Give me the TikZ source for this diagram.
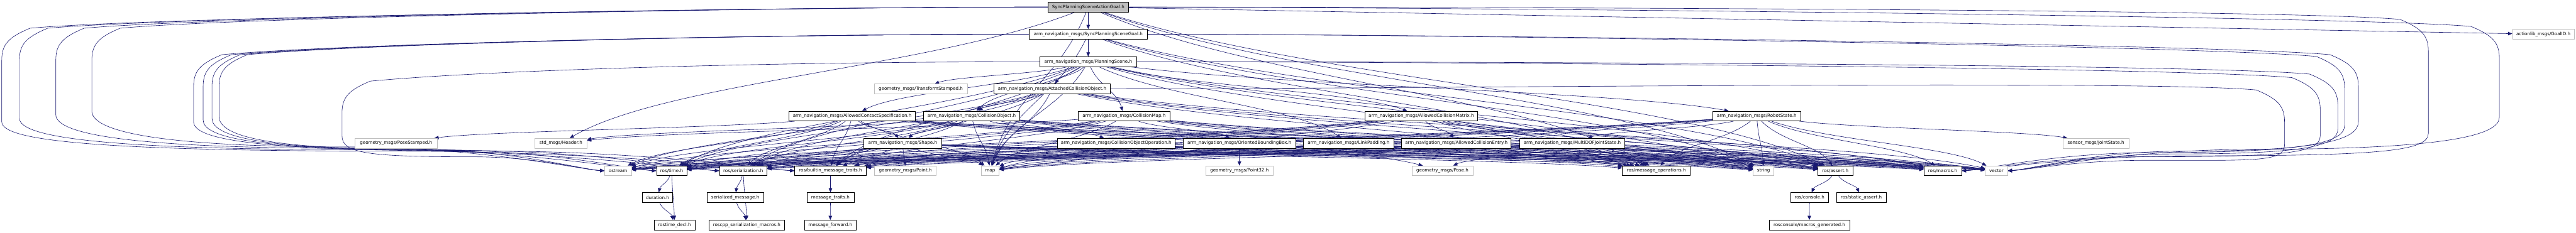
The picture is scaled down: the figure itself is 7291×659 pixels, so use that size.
\documentclass[tikz,border=0pt]{standalone}
\usepackage{fontspec}
\setmainfont{DejaVu Sans}
\usetikzlibrary{calc,arrows.meta}
\pgfdeclarelayer{bg}
\pgfsetlayers{bg,main}
\definecolor{edgec}{HTML}{191970}
\definecolor{extc}{HTML}{BFBFBF}
\definecolor{topc}{HTML}{BFBFBF}
% generic edge
\newcommand\E[2]{\draw[edge] let \p1=(#1), \p2=(#2) in (#1) .. controls ({\x1+0.3*(\x2-\x1)},{\y1+0.45*(\y2-\y1)}) and ({\x2+0.2*(\x1-\x2)},{\y2+0.45*(\y1-\y2)}) .. (#2);}
% left loop: src tgt xloop ycorner ybottom
\newcommand\LL[5]{\draw[edge] let \p1=(#1.west), \p2=(#2.west), \p3=({#3+0.5*(\x2-#3)},{#5-0.6*(#5-\y2)}) in (#1.west) .. controls ({\x1-800},{\y1}) and ({#3+400},{#4}) .. ({#3+80},{#4-30}) .. controls ({#3+20},{#4-55}) and (#3,{#4-75}) .. (#3,{#4-120}) -- (#3,#5) .. controls (#3,{#5-50}) and ({#3+0.2*(\x3-#3)},{\y3}) .. (\p3) .. controls ({\x3+0.5*(\x2-\x3)},{\y3}) and ({\x2-60},{\y2+3}) .. (#2.west);}
% right loop
\newcommand\RL[5]{\draw[edge] let \p1=(#1.east), \p2=(#2.east), \p3=({#3-0.5*(#3-\x2)},{#5-0.6*(#5-\y2)}) in (#1.east) .. controls ({\x1+800},{\y1}) and ({#3-400},{#4}) .. ({#3-80},{#4-30}) .. controls ({#3-20},{#4-55}) and (#3,{#4-75}) .. (#3,{#4-120}) -- (#3,#5) .. controls (#3,{#5-50}) and ({#3-0.2*(#3-\x3)},{\y3}) .. (\p3) .. controls ({\x3-0.5*(\x3-\x2)},{\y3}) and ({\x2+60},{\y2+3}) .. (#2.east);}
\newcommand\STD[1]{\foreach \t in {string,vector,map,ostream,rser,rbmt,rmo,rtime,rmacros,rassert}{\E{#1}{\t}}}
\begin{document}
\begin{tikzpicture}[x=1pt,y=1pt,
 box/.style={draw=black, fill=white, line width=1.1pt, minimum height=28pt, inner xsep=0pt, inner ysep=0pt, font=\fontsize{12.7}{14}\selectfont},
 ext/.style={box, draw=extc},
 topn/.style={box, fill=topc},
 edge/.style={draw=edgec, line width=1.1pt, -{Triangle[length=12pt,width=10pt]}}]
\useasboundingbox (0,0) rectangle (7291,-659);
% row 0
\node[topn, minimum width=228pt] (n0) at (3080,-20) {SyncPlanningSceneActionGoal.h};
% row 1
\node[box, minimum width=334pt] (sgoal) at (3080,-97) {arm\_navigation\_msgs/SyncPlanningSceneGoal.h};
\node[ext, minimum width=175pt] (goalid) at (7198.5,-97) {actionlib\_msgs/GoalID.h};
% row 2
\node[box, minimum width=274pt] (pscene) at (3080,-175) {arm\_navigation\_msgs/PlanningScene.h};
% row 3
\node[ext, minimum width=264pt] (tfst) at (2606,-252) {geometry\_msgs/TransformStamped.h};
\node[box, minimum width=330pt] (aco) at (2978,-252) {arm\_navigation\_msgs/AttachedCollisionObject.h};
% row 4
\node[box, minimum width=358pt] (acs) at (2412,-329) {arm\_navigation\_msgs/AllowedContactSpecification.h};
\node[box, minimum width=272pt] (cobj) at (2750,-329) {arm\_navigation\_msgs/CollisionObject.h};
\node[box, minimum width=259pt] (cmap) at (3181.5,-329) {arm\_navigation\_msgs/CollisionMap.h};
\node[box, minimum width=319pt] (acm) at (4022.5,-329) {arm\_navigation\_msgs/AllowedCollisionMatrix.h};
\node[box, minimum width=250pt] (rstate) at (4972,-329) {arm\_navigation\_msgs/RobotState.h};
% row 5
\node[ext, minimum width=232pt] (posest) at (1121,-406) {geometry\_msgs/PoseStamped.h};
\node[ext, minimum width=147pt] (header) at (1587.5,-406) {std\_msgs/Header.h};
\node[box, minimum width=220pt] (shape) at (2555,-406) {arm\_navigation\_msgs/Shape.h};
\node[box, minimum width=334pt] (coop) at (3159,-406) {arm\_navigation\_msgs/CollisionObjectOperation.h};
\node[box, minimum width=318pt] (obb) at (3508,-406) {arm\_navigation\_msgs/OrientedBoundingBox.h};
\node[box, minimum width=256pt] (lpad) at (3817,-406) {arm\_navigation\_msgs/LinkPadding.h};
\node[box, minimum width=310pt] (ace) at (4122,-406) {arm\_navigation\_msgs/AllowedCollisionEntry.h};
\node[box, minimum width=298pt] (mdof) at (4450,-406) {arm\_navigation\_msgs/MultiDOFJointState.h};
\node[ext, minimum width=186pt] (jstate) at (5932,-406) {sensor\_msgs/JointState.h};
% row 6
\node[ext, minimum width=76pt] (ostream) at (1749,-484) {ostream};
\node[box, minimum width=86pt] (rtime) at (1901,-484) {ros/time.h};
\node[box, minimum width=135pt] (rser) at (2103.5,-484) {ros/serialization.h};
\node[box, minimum width=203pt] (rbmt) at (2350.5,-484) {ros/builtin\_message\_traits.h};
\node[ext, minimum width=175pt] (point) at (2562.5,-484) {geometry\_msgs/Point.h};
\node[ext, minimum width=51pt] (map) at (2802.5,-484) {map};
\node[ext, minimum width=190pt] (point32) at (3508,-484) {geometry\_msgs/Point32.h};
\node[ext, minimum width=173pt] (pose) at (4082.5,-484) {geometry\_msgs/Pose.h};
\node[box, minimum width=192pt] (rmo) at (4688,-484) {ros/message\_operations.h};
\node[ext, minimum width=59pt] (string) at (4991.5,-484) {string};
\node[box, minimum width=99pt] (rassert) at (5194.5,-484) {ros/assert.h};
\node[box, minimum width=107pt] (rmacros) at (5498.5,-484) {ros/macros.h};
\node[ext, minimum width=63pt] (vector) at (5650.5,-484) {vector};
% row 7
\node[box, minimum width=86pt] (duration) at (1861,-560) {duration.h};
\node[box, minimum width=160pt] (sermsg) at (2081,-560) {serialized\_message.h};
\node[box, minimum width=133pt] (mtraits) at (2350.5,-560) {message\_traits.h};
\node[box, minimum width=107pt] (rconsole) at (5121.5,-560) {ros/console.h};
\node[box, minimum width=140pt] (rsassert) at (5268,-560) {ros/static\_assert.h};
% row 8
\node[box, minimum width=116pt] (rtdecl) at (1909,-638) {rostime\_decl.h};
\node[box, minimum width=215pt] (rsmacros) at (2113.5,-638) {roscpp\_serialization\_macros.h};
\node[box, minimum width=146pt] (mfwd) at (2350,-638) {message\_forward.h};
\node[box, minimum width=228pt] (rcmacros) at (5121,-638) {rosconsole/macros\_generated.h};

\begin{pgfonlayer}{bg}
% top node
\E{n0}{sgoal}
\E{n0}{header}
\draw[edge] (n0) -- (goalid);
\foreach \t in {string,map,rmo,rassert}{\E{n0}{\t}}
\LL{n0}{ostream}{260}{-50}{-315}
\LL{n0}{rtime}{158}{-50}{-325}
\LL{n0}{rser}{55}{-50}{-335}
\LL{n0}{rbmt}{5}{-50}{-345}
\RL{n0}{vector}{7074}{-45}{-332}
\RL{n0}{rmacros}{6873}{-25}{-378}
% sync goal
\E{sgoal}{pscene}
\foreach \t in {string,map,rmo,rassert}{\E{sgoal}{\t}}
\LL{sgoal}{ostream}{620}{-125}{-330}
\LL{sgoal}{rtime}{600}{-125}{-335}
\LL{sgoal}{rser}{575}{-125}{-340}
\LL{sgoal}{rbmt}{548}{-125}{-345}
\RL{sgoal}{vector}{6675}{-125}{-345}
\RL{sgoal}{rmacros}{6636}{-130}{-355}
% planning scene
\foreach \t in {rstate,tfst,acm,acs,lpad,cobj,aco,cmap}{\E{pscene}{\t}}
\foreach \t in {string,map,rser,rbmt,rmo,rtime,rassert}{\E{pscene}{\t}}
\LL{pscene}{ostream}{968}{-200}{-385}
\RL{pscene}{vector}{6617}{-180}{-365}
\RL{pscene}{rmacros}{6567}{-190}{-385}
% attached collision object
\E{aco}{cobj}
\foreach \t in {string,map,ostream,rser,rbmt,rmo,rtime,rmacros,rassert}{\E{aco}{\t}}
\RL{aco}{vector}{6466}{-225}{-410}
% others
\E{acs}{shape}\E{acs}{posest}\STD{acs}
\E{cobj}{shape}\E{cobj}{header}\E{cobj}{coop}\E{cobj}{pose}\STD{cobj}
\E{cmap}{obb}\E{cmap}{header}\STD{cmap}
\E{acm}{ace}\STD{acm}
\E{rstate}{mdof}\E{rstate}{jstate}\STD{rstate}
\E{shape}{point}\STD{shape}
\STD{coop}
\E{obb}{point32}\STD{obb}
\STD{lpad}
\STD{ace}
\E{mdof}{pose}\STD{mdof}
% lower library nodes
\E{rtime}{duration}\E{rtime}{rtdecl}\E{duration}{rtdecl}
\E{rser}{sermsg}\E{rser}{rsmacros}\E{sermsg}{rsmacros}
\E{rbmt}{mtraits}\E{mtraits}{mfwd}
\E{rassert}{rconsole}\E{rassert}{rsassert}\E{rconsole}{rcmacros}
\end{pgfonlayer}
\end{tikzpicture}
\end{document}
